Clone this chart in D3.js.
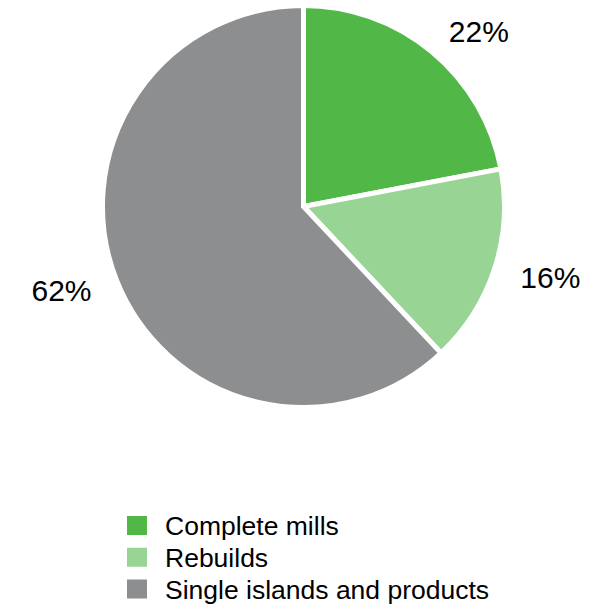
<!DOCTYPE html>
<html>
<head>
<meta charset="utf-8">
<script src="https://cdn.jsdelivr.net/npm/d3@7"></script>
<style>
  body { margin: 0; background: #fff; }
  text { font-family: "Liberation Sans", Arial, sans-serif; fill: #000; }
</style>
</head>
<body>
<div id="chart"></div>
<script>
var categories = ["Complete mills", "Rebuilds", "Single islands and products"];
var shares = [22, 16, 62];
var colors = ["#51b848", "#98d494", "#8d8e90"];

var svgWidth = 598;
var svgHeight = 604;

var cx = 303.5, cy = 206.5;
var radius = 201;

var svg = d3.select("#chart")
  .append("svg")
  .attr("width", svgWidth)
  .attr("height", svgHeight);

var data = categories.map(function(c, i) {
  return { name: c, value: shares[i], color: colors[i] };
});

var pie = d3.pie().sort(null).value(d => d.value);
var arc = d3.arc().innerRadius(0).outerRadius(radius);
var labelArc = d3.arc().innerRadius(228).outerRadius(228);

var pieGroup = svg.append("g")
  .attr("transform", `translate(${cx},${cy})`);

var slices = pie(data);

pieGroup.selectAll("path")
  .data(slices)
  .enter()
  .append("path")
  .attr("d", arc)
  .attr("fill", d => d.data.color)
  .attr("stroke", "#fff")
  .attr("stroke-width", 5)
  .attr("stroke-linejoin", "miter");

pieGroup.selectAll("text.pct")
  .data(slices)
  .enter()
  .append("text")
  .attr("class", "pct")
  .attr("x", d => labelArc.centroid(d)[0])
  .attr("y", d => labelArc.centroid(d)[1])
  .attr("dy", "0.36em")
  .attr("text-anchor", d => ((d.startAngle + d.endAngle) / 2 < Math.PI ? "start" : "end"))
  .style("font-size", "30px")
  .text(d => d.data.value + "%");

// legend
var legendY = d3.scalePoint()
  .domain(categories)
  .range([525.5, 589]);

var legend = svg.append("g")
  .selectAll("g")
  .data(data)
  .enter()
  .append("g")
  .attr("transform", d => `translate(127,${legendY(d.name)})`);

legend.append("rect")
  .attr("x", 0)
  .attr("y", -9.5)
  .attr("width", 20)
  .attr("height", 19)
  .attr("fill", d => d.color);

legend.append("text")
  .attr("x", 38)
  .attr("y", 0)
  .attr("dy", "0.36em")
  .style("font-size", "26.5px")
  .text(d => d.name);
</script>
</body>
</html>
